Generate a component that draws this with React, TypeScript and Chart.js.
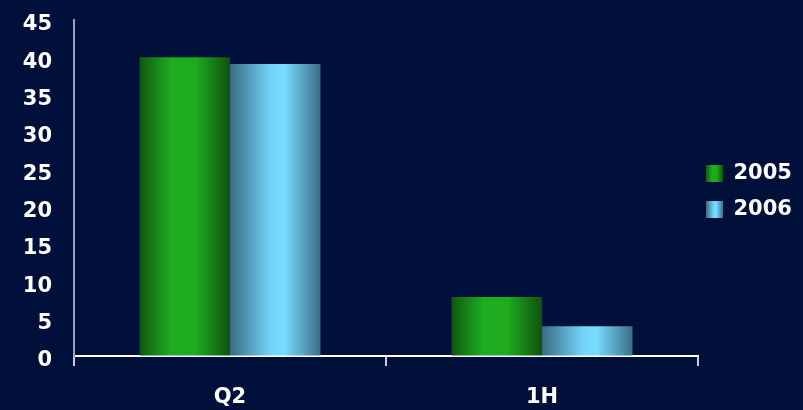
import React, { useEffect, useRef } from "react";
import { Chart, registerables } from "chart.js";

Chart.register(...registerables);

const categories = ["Q2", "1H"];
const seriesNames = ["2005", "2006"];
const values2005 = [40.0, 7.9];
const values2006 = [39.1, 4.0];
const yTicks = [0, 5, 10, 15, 20, 25, 30, 35, 40, 45];

const BG = "#00103a";
const CAT_PCT = 0.58;
const FONT = "DejaVu Sans";
const LEGEND_PAD = 15;
const greenStops: [number, string][] = [
  [0, "#0f570f"],
  [0.35, "#1ead1e"],
  [0.62, "#1eab1e"],
  [1, "#0f520f"],
];
const blueStops: [number, string][] = [
  [0, "#3a6a82"],
  [0.45, "#72d4f8"],
  [0.6, "#78dcff"],
  [1, "#3c6e86"],
];

function makeGrad(c: CanvasRenderingContext2D, x0: number, x1: number, stops: [number, string][]) {
  const g = c.createLinearGradient(x0, 0, x1, 0);
  stops.forEach(([o, col]) => g.addColorStop(o, col));
  return g;
}

function barColor(stops: [number, string][]) {
  return (ctx: any) => {
    const chart = ctx.chart;
    const xs = chart.scales?.x;
    if (!chart.chartArea || !xs || ctx.dataIndex === undefined) return stops[2][1];
    const n = categories.length;
    const cat = (xs.right - xs.left) / n;
    const center = xs.getPixelForValue(ctx.dataIndex);
    const group = cat * CAT_PCT;
    const w = group / 2;
    const left = center - group / 2 + ctx.datasetIndex * w;
    return makeGrad(chart.ctx, left, left + w, stops);
  };
}

const legendPlugin = {
  id: "legendTweak",
  beforeUpdate(chart: any) {
    const lg = chart.legend;
    if (lg && !lg._patched) {
      const f = lg.fit;
      lg.fit = function (this: any) {
        f.call(this);
        if (this.isHorizontal && !this.isHorizontal()) this.width = 97;
      };
      lg._patched = true;
    }
  },
  afterLayout(chart: any) {
    const lg = chart.legend;
    if (lg) {
      lg.left -= 7;
      const h = lg.bottom - lg.top;
      lg.top = 183.5 - h / 2;
      lg.bottom = lg.top + h;
    }
  },
  beforeDraw(chart: any) {
    const lg = chart.legend;
    if (!lg || !lg.legendItems) return;
    const bw = lg.options.labels.boxWidth;
    const x0 = lg.left + LEGEND_PAD;
    lg.legendItems.forEach((item: any, i: number) => {
      item.fillStyle = makeGrad(chart.ctx, x0, x0 + bw, i === 0 ? greenStops : blueStops);
      item.strokeStyle = "rgba(0,0,0,0)";
      item.lineWidth = 0;
    });
  },
};

export default function App() {
  const ref = useRef<HTMLCanvasElement>(null);
  useEffect(() => {
    document.body.style.background = BG;
    document.body.style.margin = "8px 8px 0 8px";
    const chart = new Chart(ref.current!, {
      type: "bar",
      data: {
        labels: categories,
        datasets: [
          {
            label: seriesNames[0],
            data: values2005,
            backgroundColor: barColor(greenStops),
            borderWidth: 0,
            barPercentage: 1,
            categoryPercentage: CAT_PCT,
          },
          {
            label: seriesNames[1],
            data: values2006,
            backgroundColor: barColor(blueStops),
            borderWidth: 0,
            barPercentage: 1,
            categoryPercentage: CAT_PCT,
          },
        ],
      },
      options: {
        animation: false,
        responsive: false,
        maintainAspectRatio: false,
        layout: { autoPadding: false, padding: { left: 0, top: 12, right: 0, bottom: 0 } },
        plugins: {
          tooltip: { enabled: false },
          legend: {
            position: "right",
            labels: {
              boxWidth: 17,
              boxHeight: 17,
              padding: LEGEND_PAD,
              color: "#ffffff",
              font: { family: FONT, size: 21, weight: "bold" },
            },
          },
        },
        scales: {
          x: {
            afterFit: (s: any) => {
              s.height = 54;
            },
            grid: {
              display: true,
              drawOnChartArea: false,
              drawTicks: true,
              tickLength: 10,
              color: "#c8ccd8",
              lineWidth: 2,
              offset: true,
            },
            border: { display: true, color: "#ffffff", width: 2 },
            ticks: {
              color: "#ffffff",
              padding: 19,
              font: { family: FONT, size: 21, weight: "bold" },
            },
          },
          y: {
            min: 0,
            max: 45,
            afterFit: (s: any) => {
              s.width = 66;
            },
            afterBuildTicks: (axis: any) => {
              axis.ticks = yTicks.map((v) => ({ value: v }));
            },
            grid: {
              display: true,
              drawOnChartArea: false,
              drawTicks: true,
              tickLength: 22,
              tickColor: "rgba(0,0,0,0)",
              color: "rgba(0,0,0,0)",
            },
            border: { display: true, color: "#9aa0b4", width: 2 },
            ticks: {
              color: "#ffffff",
              padding: 0,
              labelOffset: 5,
              font: { family: FONT, size: 21, weight: "bold", lineHeight: 1.14 },
            },
          },
        },
      },
      plugins: [legendPlugin],
    });
    return () => chart.destroy();
  }, []);
  return (
    <div style={{ width: 787, height: 402, background: BG }}>
      <canvas ref={ref} width={787} height={402} style={{ display: "block" }} />
    </div>
  );
}
